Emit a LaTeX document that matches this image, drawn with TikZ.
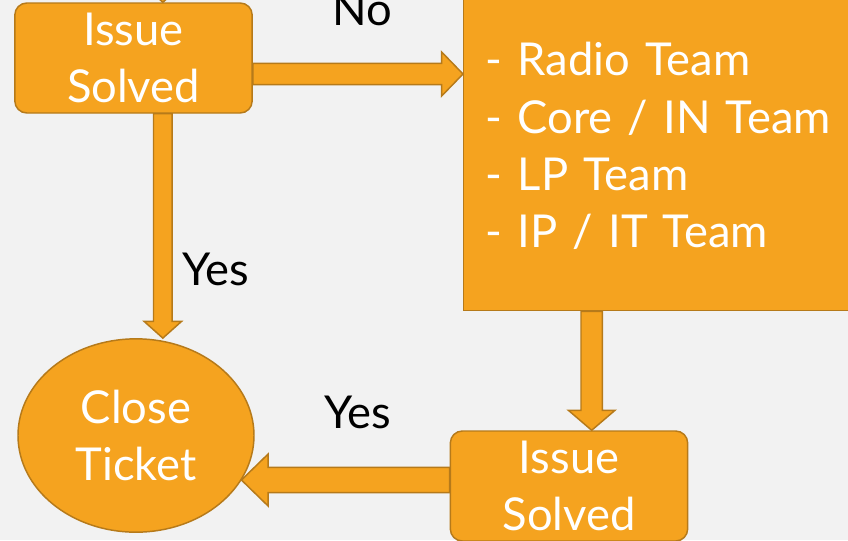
\documentclass[tikz,border=0pt]{standalone}
\usepackage{fontspec}
\setmainfont{Lato}
\usetikzlibrary{shapes.geometric,calc}

\definecolor{boxfill}{HTML}{F5A31F}
\definecolor{boxline}{HTML}{B67A1A}
\definecolor{pagebg}{HTML}{F2F2F2}
\newcommand{\bigtxt}{\fontsize{34}{43}\selectfont\spaceskip=0.17em\relax}

% block arrow: start, end, half shaft, half head, head length
\newcommand{\blockarrow}[5]{%
  \coordinate (ba_n) at ($(#2)!#5!(#1)$);
  \filldraw[barrow] ($(#1)!#3!90:(#2)$) -- ($(ba_n)!#3!-90:(#1)$) -- ($(ba_n)!#4!-90:(#1)$) -- (#2)
     -- ($(ba_n)!#4!90:(#1)$) -- ($(ba_n)!#3!90:(#1)$) -- ($(#1)!#3!-90:(#2)$) -- cycle;}

\begin{document}
\begin{tikzpicture}[x=0.75pt,y=-0.75pt]
\tikzstyle{issue}=[rectangle,rounded corners=9pt,draw=boxline,fill=boxfill,line width=1.1pt,text=white,minimum width=178pt,minimum height=82.5pt,align=center,font=\bigtxt]
\tikzstyle{teambox}=[rectangle,draw=boxline,fill=boxfill,line width=1.1pt,text=white,minimum width=305pt,minimum height=246.75pt,text width=272pt,inner xsep=16.5pt,align=left,font=\bigtxt]
\tikzstyle{closing}=[ellipse,draw=boxline,fill=boxfill,line width=1.1pt,text=white,minimum width=177pt,minimum height=145pt,inner sep=0pt,align=center,font=\bigtxt]
\tikzstyle{lbl}=[font=\bigtxt,text=black,anchor=base]
\tikzstyle{barrow}=[draw=boxline,fill=boxfill,line width=1.1pt,line join=miter]

\path[use as bounding box] (0,0) rectangle (848,540);
\clip (0,0) rectangle (848,540);
\fill[pagebg] (0,0) rectangle (848,540);

\begin{scope}
    % Boxes
    \node [issue] (issue_top) at (133.5,58) {Issue\\Solved};
    \node [teambox,anchor=north west] (teams) at (463,-19) {- Radio Team\\- Core / IN Team\\- LP Team\\- IP / IT Team};
    \node [issue] (issue_bot) at (569,486) {Issue\\Solved};
    \node [closing] (close_t) at (136,435.5) {Close\\Ticket};

    % Arrow ends
    \coordinate (a0_s) at (163,-40);
    \coordinate (a0_e) at ([xshift=22pt]issue_top.north);
    \coordinate (a1_s) at ([yshift=-12pt]issue_top.east);
    \coordinate (a1_e) at (teams.west |- a1_s);
    \coordinate (a2_s) at ([xshift=22pt]issue_top.south);
    \coordinate (a2_e) at (a2_s |- close_t.north);
    \coordinate (a3_e) at ([xshift=17pt]issue_bot.north);
    \coordinate (a3_s) at (a3_e |- teams.south);
    \coordinate (a4_s) at ([yshift=4.5pt]issue_bot.west);
    \coordinate (a4_e) at (a4_s -| close_t.-23);

    %Arrows
    \blockarrow{a0_s}{a0_e}{7pt}{14pt}{12.5pt}
    \blockarrow{a1_s}{a1_e}{8pt}{16.5pt}{16pt}
    \blockarrow{a2_s}{a2_e}{7pt}{14pt}{12.5pt}
    \blockarrow{a3_s}{a3_e}{8pt}{17.5pt}{15pt}
    \blockarrow{a4_s}{a4_e}{9.5pt}{19.5pt}{20pt}

    %Labels
    \node [lbl] (no_lbl) at (362,25) {No};
    \node [lbl] (yes_down) at (216,285) {Yes};
    \node [lbl] (yes_left) at (358,428) {Yes};
\end{scope}

\end{tikzpicture}
\end{document}
